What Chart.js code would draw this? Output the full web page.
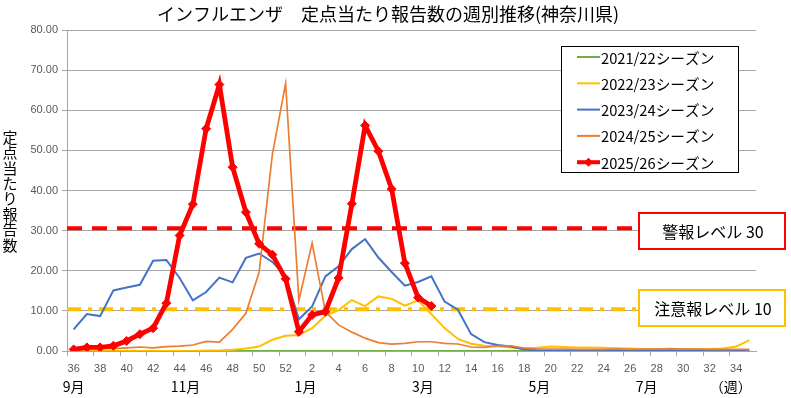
<!DOCTYPE html>
<html><head><meta charset="utf-8">
<script src="https://cdn.jsdelivr.net/npm/chart.js@4.4.1/dist/chart.umd.min.js"></script>
<style>html,body{margin:0;padding:0;background:#fff;}#wrap{width:791px;height:398px;position:relative;}</style>
</head><body><div id="wrap"><canvas id="c"></canvas></div>
<script>
const weeks = ['36','37','38','39','40','41','42','43','44','45','46','47','48','49','50','51','52',
  '1','2','3','4','5','6','7','8','9','10','11','12','13','14','15','16','17','18','19','20',
  '21','22','23','24','25','26','27','28','29','30','31','32','33','34','35'];

const seasonNames = ['2021/22シーズン','2022/23シーズン','2023/24シーズン','2024/25シーズン','2025/26シーズン'];
const seasonColors = ['#70AD47','#FFC000','#4472C4','#ED7D31','#FF0000'];

const season2122 = [0,0,0,0,0,0,0,0,0,0,0,0,0,0,0,0,0,0,0,0,0,0,0,0,0,0,
  0,0,0,0,0,0,0,0,0,0,0,0,0,0,0,0,0,0,0,0,0,0,0,0,0,0];
const season2223 = [0,0,0,0,0,0,0,0,0,0,0.1,0.1,0.3,0.6,1.1,2.8,3.8,4.0,
  5.7,8.8,10.2,12.7,11.2,13.6,13.0,11.3,12.6,9.2,5.7,3.0,1.8,
  1.3,1.2,0.9,0.7,0.8,1.1,1.0,0.9,0.9,0.8,0.7,0.6,0.5,0.5,0.5,0.5,0.5,0.5,0.6,1.1,2.7];
const season2324 = [5.4,9.2,8.7,15.1,15.8,16.5,22.5,22.7,18.2,12.6,14.7,18.3,17.1,23.2,24.3,22.2,18.6,7.9,
  11.1,18.6,21.1,25.4,27.9,23.3,19.7,16.3,17.2,18.6,12.3,10.3,4.2,
  2.2,1.5,1.1,0.4,0.2,0.1,0.1,0.1,0.1,0.1,0.1,0.1,0.1,0.1,0.1,0.1,0.1,0.1,0.1,0.1,0.1];
const season2425 = [0.4,0.6,0.7,0.6,0.8,1.0,0.8,1.1,1.2,1.5,2.4,2.2,5.4,9.4,19.6,49.0,66.7,12.6,
  26.9,9.8,6.5,4.7,3.2,2.1,1.7,1.9,2.3,2.3,1.9,1.75,1.0,
  0.9,1.25,1.3,0.7,0.5,0.5,0.5,0.4,0.4,0.4,0.5,0.4,0.5,0.5,0.6,0.5,0.5,0.4,0.4,0.4,0.4];
const season2526 = [0.4,0.9,0.9,1.3,2.5,4.2,5.7,11.9,28.8,36.6,55.4,66.4,45.8,34.6,26.7,24.0,18.0,4.8,
  9.0,9.8,18.2,36.7,56.2,49.8,40.4,21.9,13.3,11.2,
  null,null,null,null,null,null,null,null,null,null,null,null,null,null,null,null,null,null,null,null,null,null,null,null];

const alertLevel = 30.6;    // 警報レベル 30
const cautionLevel = 10.4;  // 注意報レベル 10
const alertText = '警報レベル 30';
const cautionText = '注意報レベル 10';
const monthLabels = ['9月','11月','1月','3月','5月','7月','（週）'];
const monthAt = [0, 8.45, 17.5, 26.35, 35.15, 43.25, 49.6];
const titleText = 'インフルエンザ　定点当たり報告数の週別推移(神奈川県)';
const yTitle = '定点当たり報告数';

const JP = '"Noto Sans CJK JP", sans-serif';
const LAT = '"Liberation Sans", Arial, sans-serif';

const overlay = {
  id: 'overlay',
  beforeDatasetsDraw(chart) {
    const {ctx, chartArea, scales: {y}} = chart;
    ctx.save();
    ctx.lineWidth = 4;
    ctx.strokeStyle = '#FF0000';
    ctx.setLineDash([15, 10]);
    let py = y.getPixelForValue(alertLevel);
    ctx.beginPath(); ctx.moveTo(chartArea.left, py); ctx.lineTo(638, py); ctx.stroke();
    ctx.strokeStyle = '#FFC000';
    ctx.setLineDash([14, 7, 4, 7]);
    py = y.getPixelForValue(cautionLevel);
    ctx.beginPath(); ctx.moveTo(chartArea.left, py); ctx.lineTo(638, py); ctx.stroke();
    ctx.restore();
  },
  afterDraw(chart) {
    const {ctx, scales: {x}} = chart;
    ctx.save();
    ctx.fillStyle = '#000';
    ctx.font = '18px ' + JP;
    ctx.textAlign = 'center'; ctx.textBaseline = 'middle';
    ctx.fillText(titleText, 388, 14);
    ctx.font = '15px ' + JP;
    [...yTitle].forEach((ch, i) => ctx.fillText(ch, 10, 137 + i * 15.4));
    ctx.font = '14px ' + JP;
    monthLabels.forEach((m, i) => ctx.fillText(m, x.getPixelForValue(monthAt[i]), 387));
    ctx.fillStyle = '#fff';
    ctx.fillRect(561, 46, 178, 127);
    ctx.strokeStyle = '#000'; ctx.lineWidth = 1; ctx.setLineDash([]);
    ctx.strokeRect(561.5, 46.5, 177, 126);
    ctx.textAlign = 'left';
    ctx.font = '14.7px ' + JP;
    seasonNames.forEach((n, i) => {
      const yy = 57 + i * 26.3;
      ctx.strokeStyle = seasonColors[i];
      ctx.lineWidth = i === 4 ? 4 : 2;
      ctx.beginPath(); ctx.moveTo(577, yy); ctx.lineTo(600, yy); ctx.stroke();
      if (i === 4) {
        ctx.fillStyle = '#FF0000';
        ctx.beginPath(); ctx.moveTo(588.5 - 4.5, yy); ctx.lineTo(588.5, yy - 4.5);
        ctx.lineTo(588.5 + 4.5, yy); ctx.lineTo(588.5, yy + 4.5); ctx.closePath(); ctx.fill();
      }
      ctx.fillStyle = '#000';
      ctx.fillText(n, 601, yy + 1);
    });
    const boxes = [[alertText, 212, '#FF0000'], [cautionText, 289, '#FFC000']];
    boxes.forEach(([t, top, col]) => {
      ctx.fillStyle = '#fff';
      ctx.fillRect(638, top, 148, 38);
      ctx.strokeStyle = col; ctx.lineWidth = 2;
      ctx.strokeRect(639, top + 1, 146, 36);
      ctx.fillStyle = '#000';
      ctx.textAlign = 'center';
      ctx.font = '16px ' + JP;
      ctx.fillText(t, 713, top + 20);
    });
    ctx.restore();
  }
};

const mk = (i, data, w, order) => ({
  label: seasonNames[i], data, borderColor: seasonColors[i], backgroundColor: seasonColors[i],
  borderWidth: w, pointRadius: 0, tension: 0, order, spanGaps: false
});

const datasets = [
  mk(0, season2122, 2, 5),
  mk(1, season2223, 2, 4),
  mk(2, season2324, 2, 3),
  mk(3, season2425, 1.7, 2),
  Object.assign(mk(4, season2526, 4.8, 1), {pointRadius: 4.5, pointStyle: 'rectRot', pointBorderWidth: 1, pointBackgroundColor: '#FF0000', pointBorderColor: '#FF0000'})
];

new Chart(document.getElementById('c'), {
  type: 'line',
  data: { labels: weeks, datasets },
  options: {
    responsive: true, maintainAspectRatio: false, animation: false, devicePixelRatio: 1,
    layout: { padding: { top: 30, right: 35, left: 0, bottom: 0 } },
    plugins: { legend: { display: false }, title: { display: false }, tooltip: { enabled: false } },
    scales: {
      x: {
        offset: true,
        grid: { offset: true, drawOnChartArea: false, drawTicks: true, tickLength: 5,
          color: c => (c.index % 2 === 0 ? '#A6A6A6' : 'rgba(0,0,0,0)') },
        border: { color: '#A6A6A6' },
        ticks: { autoSkip: false, maxRotation: 0, padding: 6, color: '#595959',
          font: { family: LAT, size: 11 },
          callback: (v, i) => (i % 2 === 0 ? weeks[i] : '') },
        afterFit: s => { s.height = 47; }
      },
      y: {
        min: 0, max: 80,
        grid: { color: '#A6A6A6', tickLength: 5 },
        border: { color: '#A6A6A6' },
        ticks: { stepSize: 10, padding: 4, color: '#595959', font: { family: LAT, size: 11 },
          callback: v => Number(v).toFixed(2) },
        afterFit: s => { s.width = 67; }
      }
    }
  },
  plugins: [overlay]
});
</script></body></html>
